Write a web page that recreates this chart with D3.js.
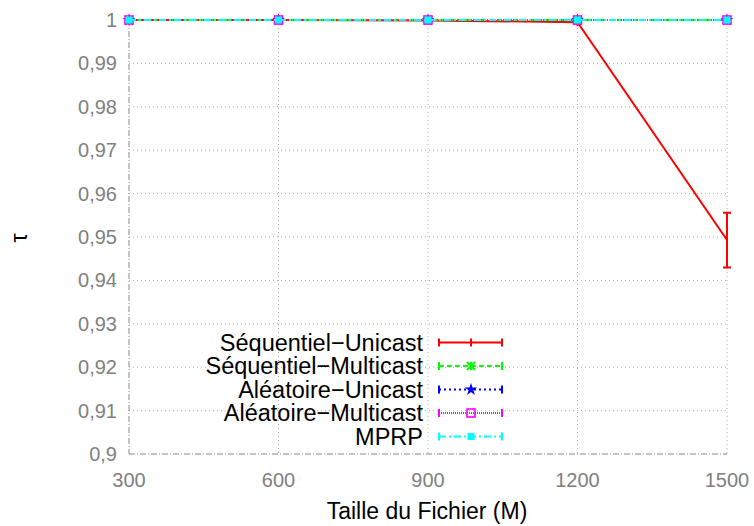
<!DOCTYPE html>
<html>
<head>
<meta charset="utf-8">
<script src="https://cdn.jsdelivr.net/npm/d3@7"></script>
<style>
  body { margin: 0; background: #fff; }
  text { font-family: "Liberation Sans", Arial, sans-serif; }
</style>
</head>
<body>
<svg id="chart" width="754" height="526"></svg>
<script>
// data
let sizes = [300, 600, 900, 1200, 1500];
let seqUnicast = [1, 1, 0.9999, 0.9995, 0.9493];
let seqUnicastErr = [0, 0, 0, 0, 0.0063];
let seqMulticast = [1, 1, 1, 1, 1];
let aleaUnicast = [1, 1, 1, 1, 1];
let aleaMulticast = [1, 1, 1, 1, 1];
let mprp = [1, 1, 1, 1, 1];
let yTicks = [0.9, 0.91, 0.92, 0.93, 0.94, 0.95, 0.96, 0.97, 0.98, 0.99, 1];
let seriesNames = ["Séquentiel−Unicast", "Séquentiel−Multicast", "Aléatoire−Unicast",
                   "Aléatoire−Multicast", "MPRP"];

let margin = {top: 20, right: 27, bottom: 72, left: 129},
    width = 754 - margin.left - margin.right,
    height = 526 - margin.top - margin.bottom;

let svg = d3.select("#chart");
let g = svg.append("g")
    .attr("transform", "translate(" + margin.left + "," + margin.top + ")");

let x = d3.scaleLinear().domain([300, 1500]).range([0, width]);
let y = d3.scaleLinear().domain([0.9, 1]).range([height, 0]);

// grid
g.selectAll("line.hgrid").data(yTicks.slice(1)).enter().append("line")
    .attr("x1", 0).attr("x2", width)
    .attr("y1", d => y(d)).attr("y2", d => y(d))
    .style("stroke", "#b0b0b0").style("stroke-width", 1)
    .style("stroke-dasharray", "1,3");
g.selectAll("line.vgrid").data(sizes.slice(1)).enter().append("line")
    .attr("x1", d => x(d)).attr("x2", d => x(d))
    .attr("y1", 0).attr("y2", height)
    .style("stroke", "#b0b0b0").style("stroke-width", 1)
    .style("stroke-dasharray", "1,3");

// axis lines (dash-dot)
g.append("line").attr("x1", 0).attr("x2", 0).attr("y1", 0).attr("y2", height)
    .style("stroke", "#888").style("stroke-dasharray", "6,2,1,2");
g.append("line").attr("x1", 0).attr("x2", width).attr("y1", height).attr("y2", height)
    .style("stroke", "#888").style("stroke-dasharray", "6,2,1,2");

// tick labels
g.selectAll("text.ytick").data(yTicks).enter().append("text")
    .attr("x", -12).attr("y", d => y(d)).attr("dy", "0.35em")
    .attr("text-anchor", "end")
    .style("font-size", "20px").style("fill", "#7f7f7f")
    .text(d => d3.format(".2~f")(d).replace(".", ","));
g.selectAll("text.xtick").data(sizes).enter().append("text")
    .attr("x", d => x(d)).attr("y", height + 33)
    .attr("text-anchor", "middle")
    .style("font-size", "20px").style("fill", "#7f7f7f")
    .text(d => d);

// axis titles
svg.append("text")
    .attr("x", margin.left + width / 2 - 1).attr("y", 519)
    .attr("text-anchor", "middle")
    .style("font-size", "23px").style("fill", "#000")
    .text("Taille du Fichier (M)");
svg.append("text")
    .attr("transform", "translate(19,238) rotate(-90)")
    .attr("text-anchor", "middle").attr("dy", "0.35em")
    .style("font-size", "23px").style("fill", "#000")
    .text("τ");

let series = [
    {name: seriesNames[0], values: seqUnicast, color: "#ff0000", dash: null, marker: "plus"},
    {name: seriesNames[1], values: seqMulticast, color: "#00ff00", dash: "5,3", marker: "cross"},
    {name: seriesNames[2], values: aleaUnicast, color: "#0000ff", dash: "2,3", marker: "star"},
    {name: seriesNames[3], values: aleaMulticast, color: "#ff00ff", dash: "1,1", marker: "osquare"},
    {name: seriesNames[4], values: mprp, color: "#00ffff", dash: "7,3,2,3", marker: "square"}
];

let line = d3.line().x((d, i) => x(sizes[i])).y(d => y(d));

function drawMarker(sel, type, color, cx, cy) {
    if (type == "plus") {
        sel.append("path").attr("d", "M" + cx + "," + (cy - 4) + "V" + (cy + 4))
            .style("stroke", color).style("stroke-width", 2);
    } else if (type == "cross") {
        sel.append("path")
            .attr("d", "M" + (cx - 4) + "," + (cy - 4) + "L" + (cx + 4) + "," + (cy + 4) +
                       "M" + (cx - 4) + "," + (cy + 4) + "L" + (cx + 4) + "," + (cy - 4) +
                       "M" + cx + "," + (cy - 4) + "V" + (cy + 4))
            .style("stroke", color).style("stroke-width", 2);
    } else if (type == "star") {
        sel.append("path")
            .attr("d", d3.symbol().type(d3.symbolStar).size(50)())
            .attr("transform", "translate(" + cx + "," + cy + ")")
            .style("fill", color);
    } else if (type == "osquare") {
        sel.append("rect").attr("x", cx - 4).attr("y", cy - 4).attr("width", 8).attr("height", 8)
            .style("fill", "none").style("stroke", color).style("stroke-width", 1.6);
    } else if (type == "square") {
        sel.append("rect").attr("x", cx - 3.5).attr("y", cy - 3.5).attr("width", 7).attr("height", 7)
            .style("fill", color);
    }
}

// lines and markers
series.forEach(function(s) {
    let sg = g.append("g");
    sg.append("path").datum(s.values)
        .attr("d", line)
        .style("fill", "none").style("stroke", s.color).style("stroke-width", 2)
        .style("stroke-dasharray", s.dash);
    s.values.forEach(function(v, i) {
        drawMarker(sg, s.marker, s.color, x(sizes[i]), y(v));
    });
});

// error bars (Séquentiel-Unicast)
seqUnicast.forEach(function(v, i) {
    let e = seqUnicastErr[i];
    if (e <= 0) return;
    let cx = x(sizes[i]);
    g.append("path")
        .attr("d", "M" + cx + "," + y(v + e) + "V" + y(v - e) +
                   "M" + (cx - 4) + "," + y(v + e) + "H" + (cx + 4) +
                   "M" + (cx - 4) + "," + y(v - e) + "H" + (cx + 4))
        .style("stroke", "#ff0000").style("stroke-width", 2).style("fill", "none");
});

// legend
let legend = svg.append("g");
series.forEach(function(s, i) {
    let ly = 342.5 + i * 23.5;
    legend.append("text")
        .attr("x", 423).attr("y", ly).attr("dy", "0.35em")
        .attr("text-anchor", "end")
        .style("font-size", "23.5px").style("fill", "#000")
        .text(s.name);
    legend.append("path")
        .attr("d", "M439," + ly + "H502")
        .style("stroke", s.color).style("stroke-width", 2)
        .style("stroke-dasharray", s.dash);
    legend.append("path")
        .attr("d", "M439," + (ly - 4) + "V" + (ly + 4) + "M502," + (ly - 4) + "V" + (ly + 4))
        .style("stroke", s.color).style("stroke-width", 2);
    drawMarker(legend, s.marker, s.color, 471, ly);
});
</script>
</body>
</html>
